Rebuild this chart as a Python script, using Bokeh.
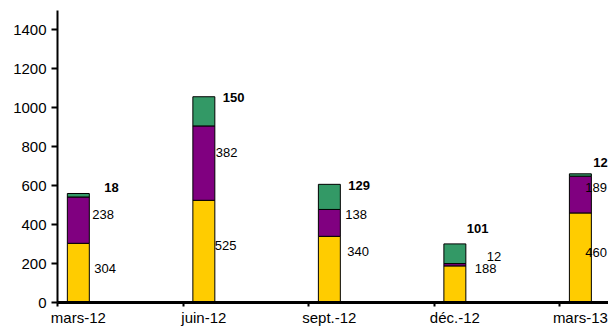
from bokeh.plotting import figure
from bokeh.models import ColumnDataSource, FixedTicker, LabelSet, Range1d
from bokeh.core.properties import value
from bokeh.embed import file_html
from bokeh.resources import INLINE
import numpy as np

# ---- data ----
categories = ["mars-12", "juin-12", "sept.-12", "déc.-12", "mars-13"]
serie_jaune = [304, 525, 340, 188, 460]
serie_violet = [238, 382, 138, 12, 189]
serie_vert = [18, 150, 129, 101, 12]
y_ticks = [0, 200, 400, 600, 800, 1000, 1200, 1400]

# ---- style / placement ----
FONT = "Liberation Sans"
COLORS = ["#FFCC00", "#800080", "#339966"]
BAR_SHIFT = 0.166
BAR_W = 0.175
# pixel nudges of the data labels (x right, y up), per series
lab_dx = [[5, 0, 7, 9, -6], [3, 1, 5, 21, -6], [15, 8, 8, 1, 2]]
lab_dy = [[4, 6, 18, 16, 5], [6, 11, 8, 8, 7], [8, 14, 11, 25, 12]]

idx = np.arange(len(categories))
xc = idx + BAR_SHIFT
src = ColumnDataSource(dict(x=xc, jaune=serie_jaune, violet=serie_violet, vert=serie_vert))

p = figure(width=608, height=329, output_backend="svg", toolbar_location=None,
           x_range=Range1d(0, 4.39), y_range=Range1d(0, 1500),
           min_border_left=57, min_border_right=0, min_border_top=10, min_border_bottom=27)
p.outline_line_color = None
p.grid.visible = False
p.background_fill_color = "white"

p.vbar_stack(["jaune", "violet", "vert"], x="x", width=BAR_W, source=src,
             fill_color=COLORS, line_color="black", line_width=1)

series = [serie_jaune, serie_violet, serie_vert]
base = np.zeros(len(categories))
for k, s in enumerate(series):
    s = np.array(s, dtype=float)
    mid = base + s / 2
    base = base + s
    lsrc = ColumnDataSource(dict(x=xc + BAR_W / 2, y=mid, t=[str(int(v)) for v in s],
                                 dx=lab_dx[k], dy=lab_dy[k]))
    p.add_layout(LabelSet(x="x", y="y", text="t", source=lsrc, x_offset="dx", y_offset="dy",
                          text_font=value(FONT), text_font_size=value("13px"),
                          text_align=value("left"), text_baseline=value("middle"),
                          text_color=value("#000000"),
                          text_font_style=value("bold" if k == 2 else "normal")))

# y axis
ya = p.yaxis[0]
ya.ticker = FixedTicker(ticks=y_ticks)
ya.axis_line_width = 2
ya.major_tick_line_width = 2
ya.major_tick_out = 6
ya.major_tick_in = 0
ya.minor_tick_line_color = None
ya.major_label_standoff = 5
ya.major_label_text_font = FONT
ya.major_label_text_font_size = "15px"
ya.major_label_text_color = "black"

# x axis
xa = p.xaxis[0]
xa.ticker = FixedTicker(ticks=list(xc), minor_ticks=list(idx))
xa.major_label_overrides = {float(x): c for x, c in zip(xc, categories)}
xa.axis_line_width = 3
xa.major_tick_line_color = None
xa.major_tick_out = 0
xa.major_tick_in = 0
xa.minor_tick_line_width = 2
xa.minor_tick_out = 4
xa.minor_tick_in = 0
xa.major_label_standoff = 2
xa.major_label_text_font = FONT
xa.major_label_text_font_size = "15px"
xa.major_label_text_color = "black"

open("out.html", "w").write(file_html(p, INLINE))
